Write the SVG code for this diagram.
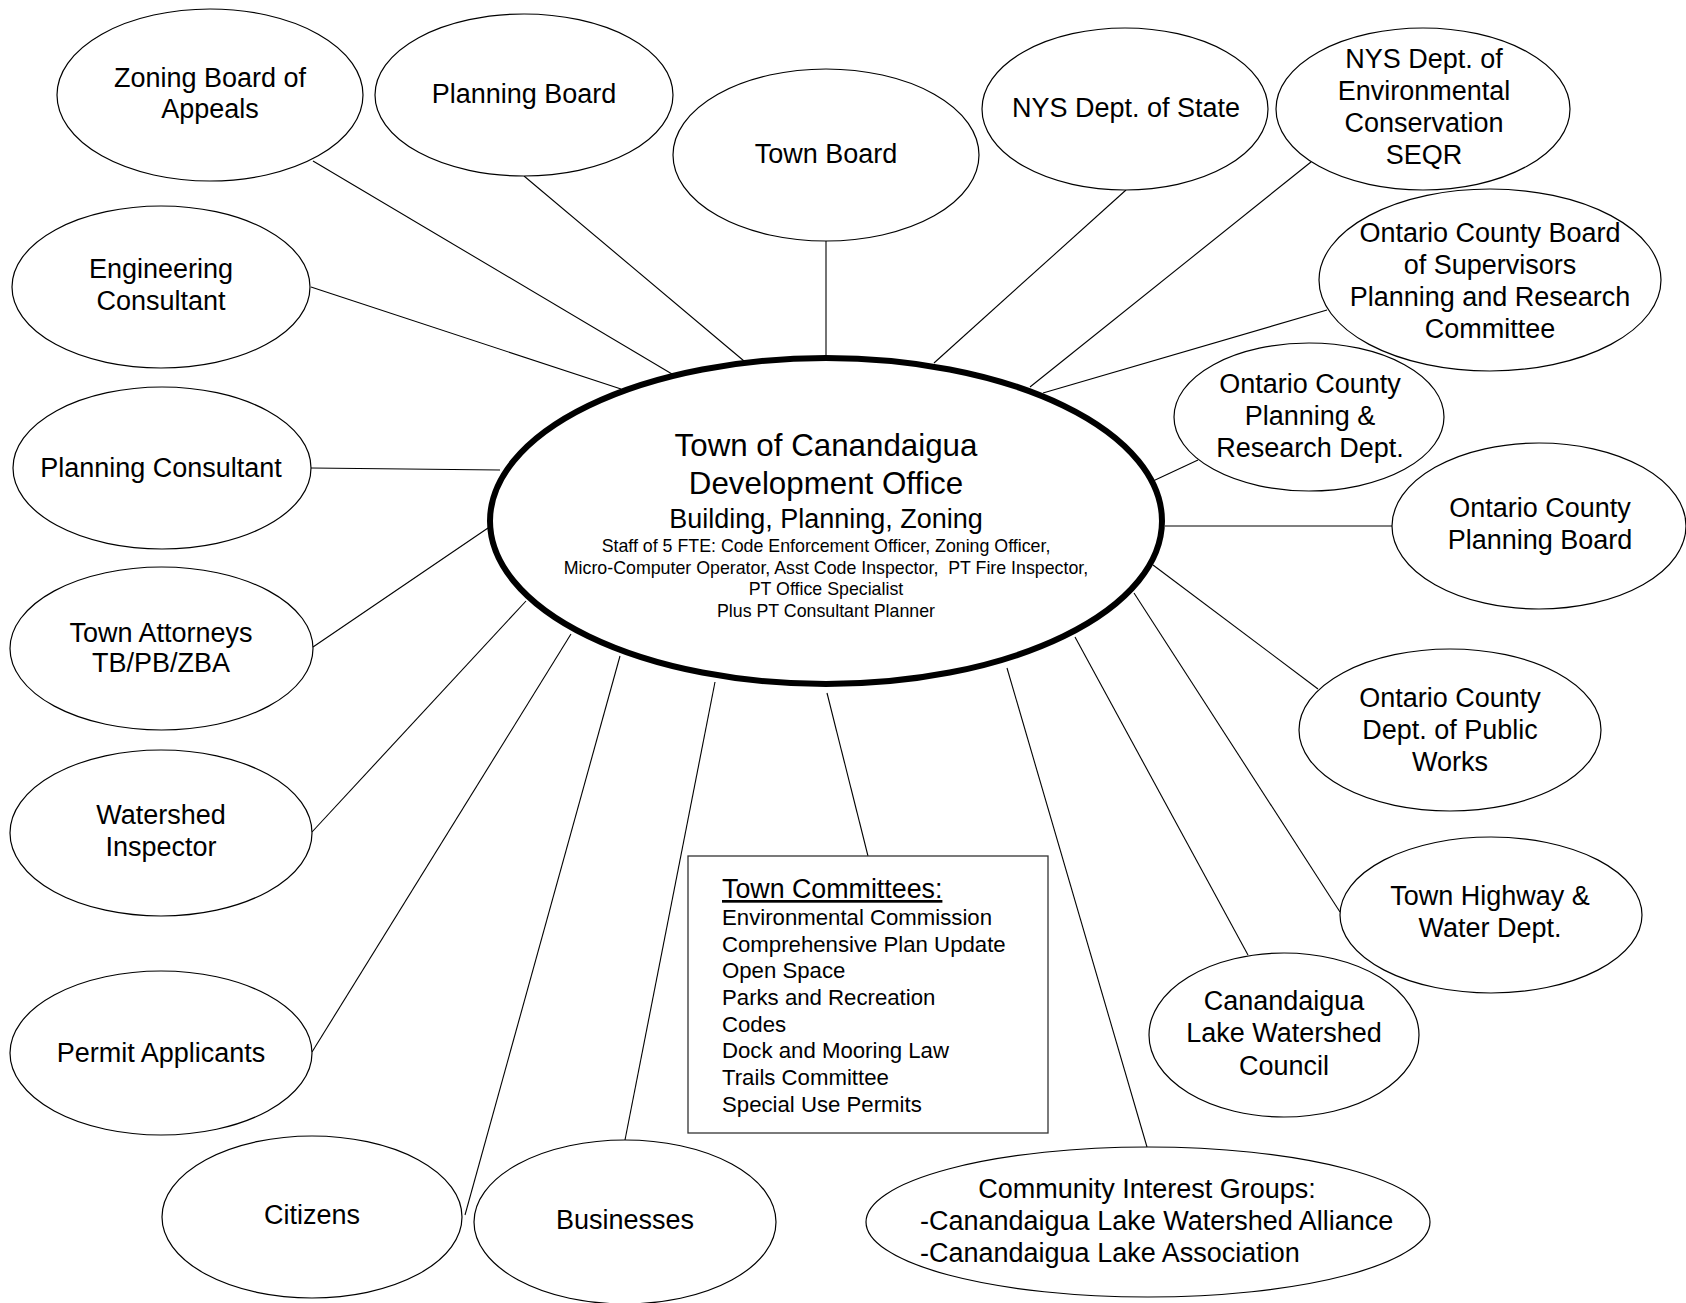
<svg xmlns="http://www.w3.org/2000/svg" width="1686" height="1303" viewBox="0 0 1686 1303">
<style>
text{font-family:"Liberation Sans",Arial,sans-serif;fill:#000}
.n ellipse{fill:#fff;stroke:#000;stroke-width:1.2}
.t{font-size:27px;text-anchor:middle}
.c line{stroke:#000;stroke-width:1.1}
.i{font-size:22.2px}
.s{font-size:17.8px;text-anchor:middle}
</style>
<rect width="1686" height="1303" fill="#fff"/>
<g id="connectors" class="c">
<line x1="313" y1="161" x2="672" y2="374"/>
<line x1="524" y1="176" x2="744" y2="361"/>
<line x1="826" y1="241" x2="826" y2="356"/>
<line x1="1126" y1="190" x2="934" y2="363"/>
<line x1="1311" y1="162" x2="1030" y2="387"/>
<line x1="1327" y1="310" x2="1043" y2="393"/>
<line x1="1198" y1="460" x2="1153" y2="481"/>
<line x1="1392" y1="526" x2="1165" y2="526"/>
<line x1="1318" y1="689" x2="1153" y2="565"/>
<line x1="1340" y1="912" x2="1134" y2="593"/>
<line x1="1248" y1="955" x2="1075" y2="637"/>
<line x1="1147" y1="1147" x2="1007" y2="668"/>
<line x1="868" y1="856" x2="827" y2="693"/>
<line x1="625" y1="1140" x2="715" y2="682"/>
<line x1="465" y1="1215" x2="620" y2="656"/>
<line x1="312" y1="1052" x2="571" y2="634"/>
<line x1="312" y1="832" x2="526" y2="601"/>
<line x1="313" y1="647" x2="488" y2="528"/>
<line x1="311" y1="468" x2="500" y2="470"/>
<line x1="311" y1="287" x2="621" y2="389"/>
</g>
<g class="n">
<g id="zba"><ellipse cx="210" cy="95" rx="153" ry="86"/><text class="t" x="210" y="87">Zoning Board of</text><text class="t" x="210" y="118">Appeals</text></g>
<g id="planning-board"><ellipse cx="524" cy="95" rx="149" ry="81"/><text class="t" x="524" y="103">Planning Board</text></g>
<g id="town-board"><ellipse cx="826" cy="155" rx="153" ry="86"/><text class="t" x="826" y="163">Town Board</text></g>
<g id="nys-state"><ellipse cx="1125" cy="109" rx="143" ry="81"/><text class="t" x="1126" y="117">NYS Dept. of State</text></g>
<g id="nys-dec"><ellipse cx="1423" cy="109" rx="147" ry="81"/><text class="t" x="1424" y="68">NYS Dept. of</text><text class="t" x="1424" y="100">Environmental</text><text class="t" x="1424" y="132">Conservation</text><text class="t" x="1424" y="164">SEQR</text></g>
<g id="oc-board"><ellipse cx="1490" cy="280" rx="171" ry="91"/><text class="t" x="1490" y="242">Ontario County Board</text><text class="t" x="1490" y="274">of Supervisors</text><text class="t" x="1490" y="306">Planning and Research</text><text class="t" x="1490" y="338">Committee</text></g>
<g id="oc-pr"><ellipse cx="1309" cy="417" rx="135" ry="74"/><text class="t" x="1310" y="393">Ontario County</text><text class="t" x="1310" y="425">Planning &amp;</text><text class="t" x="1310" y="457">Research Dept.</text></g>
<g id="oc-pb"><ellipse cx="1539" cy="526" rx="147" ry="83"/><text class="t" x="1540" y="517">Ontario County</text><text class="t" x="1540" y="549">Planning Board</text></g>
<g id="oc-dpw"><ellipse cx="1450" cy="730" rx="151" ry="81"/><text class="t" x="1450" y="707">Ontario County</text><text class="t" x="1450" y="739">Dept. of Public</text><text class="t" x="1450" y="771">Works</text></g>
<g id="town-highway"><ellipse cx="1491" cy="915" rx="151" ry="78"/><text class="t" x="1490" y="905">Town Highway &amp;</text><text class="t" x="1490" y="937">Water Dept.</text></g>
<g id="clwc"><ellipse cx="1284" cy="1035" rx="135" ry="82"/><text class="t" x="1284" y="1010">Canandaigua</text><text class="t" x="1284" y="1042">Lake Watershed</text><text class="t" x="1284" y="1075">Council</text></g>
<g id="community"><ellipse cx="1148" cy="1222" rx="282" ry="75"/><text class="t" x="1147" y="1198">Community Interest Groups:</text><text style="font-size:27px" x="920" y="1230">-Canandaigua Lake Watershed Alliance</text><text style="font-size:27px" x="920" y="1262">-Canandaigua Lake Association</text></g>
<g id="businesses"><ellipse cx="625" cy="1222" rx="151" ry="82"/><text class="t" x="625" y="1229">Businesses</text></g>
<g id="citizens"><ellipse cx="312" cy="1217" rx="150" ry="81"/><text class="t" x="312" y="1224">Citizens</text></g>
<g id="permit-applicants"><ellipse cx="161" cy="1053" rx="151" ry="82"/><text class="t" x="161" y="1062">Permit Applicants</text></g>
<g id="watershed-inspector"><ellipse cx="161" cy="833" rx="151" ry="83"/><text class="t" x="161" y="824">Watershed</text><text class="t" x="161" y="856">Inspector</text></g>
<g id="town-attorneys"><ellipse cx="161.5" cy="648.5" rx="151.5" ry="81.5"/><text class="t" x="161" y="642">Town Attorneys</text><text class="t" x="161" y="672">TB/PB/ZBA</text></g>
<g id="planning-consultant"><ellipse cx="162" cy="468" rx="149" ry="81"/><text class="t" x="161" y="477">Planning Consultant</text></g>
<g id="engineering-consultant"><ellipse cx="161" cy="287" rx="149" ry="81"/><text class="t" x="161" y="278">Engineering</text><text class="t" x="161" y="310">Consultant</text></g>
<g id="town-committees"><rect x="688" y="856" width="360" height="277" fill="#fff" stroke="#333" stroke-width="1.3"/>
<text x="722" y="898" style="font-size:26.8px;text-decoration:underline">Town Committees:</text>
<text class="i" x="722" y="925">Environmental Commission</text>
<text class="i" x="722" y="952">Comprehensive Plan Update</text>
<text class="i" x="722" y="978">Open Space</text>
<text class="i" x="722" y="1005">Parks and Recreation</text>
<text class="i" x="722" y="1032">Codes</text>
<text class="i" x="722" y="1058">Dock and Mooring Law</text>
<text class="i" x="722" y="1085">Trails Committee</text>
<text class="i" x="722" y="1112">Special Use Permits</text></g>
<g id="development-office"><ellipse cx="826" cy="521" rx="336" ry="163" style="stroke-width:6"/>
<text x="826" y="456" style="font-size:31.3px;text-anchor:middle">Town of Canandaigua</text>
<text x="826" y="494" style="font-size:31.3px;text-anchor:middle">Development Office</text>
<text class="t" x="826" y="528">Building, Planning, Zoning</text>
<text class="s" x="826" y="552">Staff of 5 FTE: Code Enforcement Officer, Zoning Officer,</text>
<text class="s" x="826" y="574" xml:space="preserve">Micro-Computer Operator, Asst Code Inspector,  PT Fire Inspector,</text>
<text class="s" x="826" y="595">PT Office Specialist</text>
<text class="s" x="826" y="617">Plus PT Consultant Planner</text></g>
</g>
</svg>
